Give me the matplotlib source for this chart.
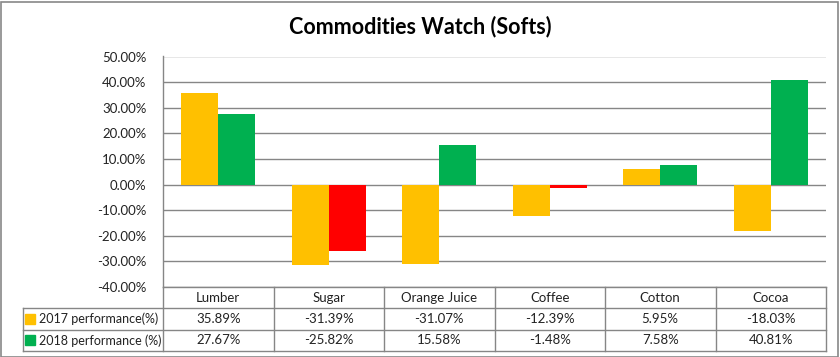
import numpy as np
import matplotlib.pyplot as plt
from matplotlib.patches import Rectangle
from matplotlib.ticker import FuncFormatter

plt.rcParams['font.family'] = ['Lato', 'DejaVu Sans']

categories = ["Lumber", "Sugar", "Orange Juice", "Coffee", "Cotton", "Cocoa"]
perf_2017 = [35.89, -31.39, -31.07, -12.39, 5.95, -18.03]
perf_2018 = [27.67, -25.82, 15.58, -1.48, 7.58, 40.81]
series_names = ["2017 performance(%)", "2018 performance (%)"]

YELLOW = "#FFC000"
GREEN = "#00B050"
RED = "#FF0000"
GRID = "#868686"

W, H = 840, 357
fig = plt.figure(figsize=(W / 100, H / 100), dpi=100)

# plot area in pixel terms
px_left, px_right, px_top, px_bot = 163, 826, 56.5, 287
ax = fig.add_axes([px_left / W, 1 - px_bot / H, (px_right - px_left) / W, (px_bot - px_top) / H])

x = np.arange(len(categories))
bw = 0.335
ax.bar(x - bw / 2, perf_2017, bw, color=YELLOW, zorder=3)
cols_2018 = [GREEN if v >= 0 else RED for v in perf_2018]
ax.bar(x + bw / 2, perf_2018, bw, color=cols_2018, zorder=3)

ax.set_xlim(-0.5, len(categories) - 0.5)
ax.set_ylim(-40, 50)
ax.set_yticks(np.arange(-40, 51, 10))
ax.yaxis.set_major_formatter(FuncFormatter(lambda v, p: f"{v:.2f}%"))
ax.set_xticks([])
ax.tick_params(axis='y', length=0, pad=12, labelsize=9.5, labelcolor="#222222")
ax.grid(axis='y', color=GRID, linewidth=1, zorder=0)
for s in ['top', 'right', 'bottom']:
    ax.spines[s].set_visible(False)
ax.spines['left'].set_color(GRID)
ax.spines['left'].set_linewidth(1)

# data table under the plot, sharing the category scale
tab_left = 23
unit = (px_right - px_left) / len(categories)
xmin = -0.5 - (px_left - tab_left) / unit
tax = fig.add_axes([tab_left / W, 1 - 351 / H, (px_right - tab_left) / W, (351 - px_bot) / H])
tax.set_xlim(xmin, len(categories) - 0.5)
tax.set_ylim(0, 3)
tax.axis('off')

lkw = dict(color=GRID, linewidth=1, clip_on=False)
xe = len(categories) - 0.5
for yv in [0, 1, 2]:
    tax.plot([xmin, xe], [yv, yv], **lkw)
tax.plot([-0.5, xe], [3, 3], **lkw)
tax.plot([xmin, xmin], [0, 2], **lkw)
for b in np.arange(-0.5, len(categories), 1.0):
    tax.plot([b, b], [0, 3], **lkw)

fs = 9.5
for i, c in enumerate(categories):
    tax.text(i, 2.5, c, ha='center', va='center', fontsize=fs, color="#222222")
    tax.text(i, 1.5, f"{perf_2017[i]:.2f}%", ha='center', va='center', fontsize=fs, color="#222222")
    tax.text(i, 0.5, f"{perf_2018[i]:.2f}%", ha='center', va='center', fontsize=fs, color="#222222")

for row, (name, col) in enumerate(zip(series_names, [YELLOW, GREEN])):
    yv = 1.5 - row
    tax.plot([xmin + 7 / unit], [yv], marker='s', markersize=7, color=col, clip_on=False)
    tax.text(xmin + 16 / unit, yv, name, ha='left', va='center', fontsize=9, color="#222222")

fig.text(0.5, 1 - 27 / H, "Commodities Watch (Softs)", ha='center', va='center',
         fontsize=15.5, fontweight='bold', color="black")

fig.patches.append(Rectangle((0.5 / W, 0.5 / H), (W - 3) / W, (H - 2) / H, transform=fig.transFigure,
                             fill=False, edgecolor="#888888", linewidth=1.2))

fig.savefig("out.png", dpi=100)
